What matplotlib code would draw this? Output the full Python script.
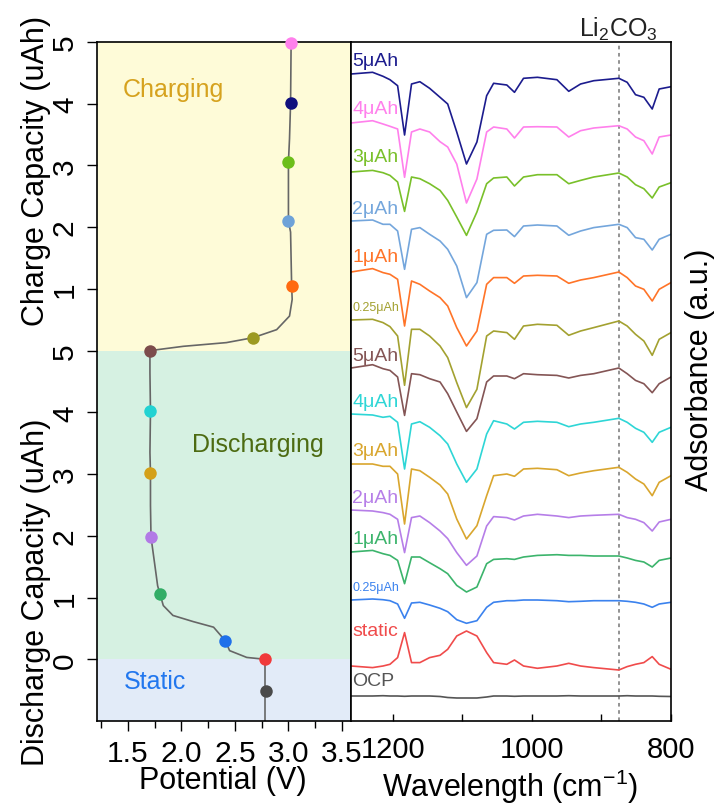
import matplotlib
matplotlib.use('Agg')
import matplotlib.pyplot as plt
from matplotlib.ticker import MultipleLocator

plt.rcParams['font.family'] = ['Liberation Sans', 'DejaVu Sans']
plt.rcParams['mathtext.fontset'] = 'custom'
plt.rcParams['mathtext.rm'] = 'Liberation Sans'
plt.rcParams['mathtext.it'] = 'Liberation Sans:italic'
plt.rcParams['mathtext.bf'] = 'Liberation Sans:bold'

# ---- potential profile (left) ----
# static: open circuit, potential stays at 2.78 V
static_v = 2.78
# discharge capacity (uAh) vs potential, from the start of discharge to 5 uAh
discharge_v = [2.78, 2.61, 2.45, 2.41, 2.30, 2.11, 1.92, 1.83, 1.80, 1.777,
               1.752, 1.715, 1.71, 1.71, 1.705, 1.71, 1.705, 1.705]
discharge_cap = [0.0, 0.03, 0.14, 0.30, 0.52, 0.61, 0.71, 0.87, 1.05, 1.19,
                 1.51, 1.98, 2.49, 3.01, 3.35, 4.02, 4.64, 5.0]
# charge capacity (uAh) vs potential
charge_v = [1.705, 2.017, 2.42, 2.67, 2.89, 3.01, 3.035, 3.03, 3.02, 3.0,
            3.0, 3.0, 3.01, 3.02, 3.025]
charge_cap = [0.0, 0.07, 0.13, 0.21, 0.34, 0.56, 0.83, 1.05, 1.92, 2.1,
              2.73, 3.06, 3.43, 4.01, 4.98]

# sampling points where the spectra were taken
pt_v = [3.025, 3.02, 3.0, 3.0, 3.03, 2.67,
        1.705, 1.71, 1.71, 1.715, 1.80, 2.41,
        2.78, 2.79]
pt_cap = [4.98, 4.01, 3.06, 2.1, 1.05, 0.21,
          5.0, 4.02, 3.01, 1.98, 1.05, 0.30,
          0.0, 0.52]
pt_step = ['charge'] * 6 + ['discharge'] * 6 + ['static', 'ocp']
pt_colors = ['#ff80ec', '#10107e', '#6cbe1a', '#6ea2d8', '#ff6a10', '#9c9a22',
             '#7c4c4c', '#22d2d2', '#d4a018', '#b27ae6', '#32ad66', '#1f70ea',
             '#f03a3a', '#4a4a4a']

# ---- IR spectra (right) ----
wn = [1260, 1229, 1214, 1204, 1193, 1183, 1173, 1161, 1147, 1132, 1121,
      1108, 1094, 1079, 1065, 1055, 1036, 1025, 1012, 992, 964, 947, 930,
      911, 875, 863, 851, 839, 827, 817, 800]

chg_5 = [0, 1.7, -2.3, -5.7, -11.7, -61, -10, -7.7, -14.3, -23.3, -30, -58, -90, -68, -21.7,
         -9.3, -11, -18.3, -4.3, -3.3, -5.7, -17.3, -10, -6.7, -4.3, -8.3, -20.7, -23.3, -35, -15, -12.7]
chg_4 = [0, 2.3, -1, -3.3, -6, -54.3, -9, -6, -9, -18.7, -24, -41, -80, -56, -9,
         -4, -6, -15, -4, -3.7, -4, -14, -7.7, -5, -2.7, -6, -14, -17.7, -31, -14, -12]
chg_3 = [0, 1.6, -0.7, -3.4, -10, -39.4, -5, -6.7, -11.7, -18.4, -28.4, -45, -63.4, -40, -11.7,
         -6, -5, -14, -5, -2.7, -2.7, -11.7, -8.4, -5, -1, -5, -12.7, -16.7, -26, -15, -10.7]
chg_2 = [0, 1, -3.3, -3.3, -10, -48.3, -8.3, -6.6, -13.3, -20, -28.3, -45, -76.6, -61.6, -13.3,
         -9.3, -9, -15.6, -5, -4, -5, -14.3, -10, -6.6, -3.3, -6.6, -16.6, -18.3, -29, -18.3, -13.3]
chg_1 = [0, 3.4, -0.6, -2.3, -7.3, -54, -9, -12.3, -19, -25.6, -34, -55.6, -74, -59, -12.3,
         -5.6, -5.6, -11.3, -4, -3.3, -4, -11.3, -8, -5.6, 0, -5.6, -14, -17.3, -29, -17.3, -10.6]
chg_025 = [0, 0.7, -2.6, -6.6, -16, -65.3, -9.3, -9.3, -16, -26, -37.6, -62.6, -87.6, -69.3, -16,
           -11, -12.6, -19.3, -6, -4.3, -5.3, -15.3, -11, -7.6, -1, -6, -14.3, -21, -35.3, -19.3, -12.6]
dis_5 = [0, 3.3, -0.7, -2.4, -9, -47.4, -5.7, -6.7, -10.7, -14, -25.7, -44, -63.4, -50.7, -14,
         -8, -8, -10.7, -5.7, -6.7, -7.4, -10, -7.4, -5.7, 0, -5.7, -12.4, -15.7, -24.7, -15.7, -9]
dis_4 = [0, -1, -3.3, -2.3, -8.3, -55, -10, -7.7, -13.3, -21.7, -30, -50, -68.3, -55, -20,
         -6.7, -10, -15, -8.3, -7.3, -8.3, -12.7, -10, -8.3, -4.3, -8.3, -14.3, -18.3, -28.3, -18.3, -13.3]
dis_3 = [0, 0, -2.3, -2.3, -10, -60, -5, -6.7, -13.3, -21, -30, -55, -75, -61.7, -31.7,
         -11.7, -10, -12.3, -5, -4.3, -5.7, -11.7, -9, -6.7, -3.3, -8.3, -15, -20, -31.7, -18.3, -11.7]
dis_2 = [0, -1, -2.6, -4.3, -9.3, -42.6, -7.6, -6, -12.6, -21, -28.6, -42.6, -55.3, -46, -16,
         -6.6, -7.6, -10, -6, -4.3, -6, -7.6, -6, -5.3, -4.3, -7.6, -9.3, -12.6, -21, -12, -9.3]
dis_1 = [0, 1.6, -1.7, -3.4, -8.4, -31.7, -5, -5, -10.7, -16.7, -21.7, -33.4, -40, -35, -11.7,
         -7.4, -6.7, -7.4, -5, -3.4, -2.7, -3.4, -3.4, -4, -4, -6, -8.4, -10, -15, -8.4, -6]
dis_025 = [0, 1, 0.3, -0.7, -4, -18.3, -3, -2.3, -5, -8.3, -11.7, -19.7, -23.3, -20.7, -7.3,
           -2.3, -0.7, -0.7, 0, 0, -0.7, -1.7, -1.3, -0.7, -0.7, -1.3, -2.3, -4, -7.3, -4, -2.3]
static = [0, -1.6, 0, 1.7, 8.4, 33.4, 3.4, 3.4, 8.4, 10.7, 16.7, 30, 35, 30, 13.4,
          3.4, 1.7, 6, 0, -2.3, 0, 2.7, 0, -1.6, -4, -0.6, 1.7, 3.4, 9.4, 1.7, -3.3]
ocp = [0, 0, 0.3, 0, 0, -0.3, 0, 0, 0, -0.5, -1.5, -2, -2, -2, -1,
       0, 0, -0.3, 0, 0, 0, 0.3, 0, 0, 0, 0.3, 0, 0, 0, -0.3, -0.5]

spectra = [chg_5, chg_4, chg_3, chg_2, chg_1, chg_025,
           dis_5, dis_4, dis_3, dis_2, dis_1, dis_025, static, ocp]
names = ['5μAh', '4μAh', '3μAh', '2μAh', '1μAh', '0.25μAh',
         '5μAh', '4μAh', '3μAh', '2μAh', '1μAh', '0.25μAh', 'static', 'OCP']
colors = ['#1c1c8e', '#ff80ec', '#79c02a', '#74a6dc', '#ff7428', '#a3a130',
          '#845555', '#2ed6d6', '#d9a62e', '#b67ee8', '#3cb46c', '#3b82ee',
          '#f04b4b', '#555555']
# vertical stacking of the traces
offsets = [647, 598, 549, 500, 449, 401, 353, 307, 257, 211, 169, 121, 55, 25]
label_gap = [14, 14, 16, 12, 16, 13, 12, 12, 13, 12, 14, 13, 35, 15]

fig = plt.figure(figsize=(7.2, 8.12), dpi=100)
ax1 = fig.add_axes([97 / 720, 90 / 812, 254 / 720, 679 / 812])
ax2 = fig.add_axes([351 / 720, 90 / 812, 320 / 720, 679 / 812])

# left: potential profile on stacked capacity axis
ax1.axhspan(5, 10, color='#fefbd8', lw=0, zorder=0)
ax1.axhspan(0, 5, color='#d6f1e2', lw=0, zorder=0)
ax1.axhspan(-1, 0, color='#e2ebf8', lw=0, zorder=0)

ax1.plot([static_v, static_v], [-1, 0], color='#666666', lw=1.2, zorder=2)
ax1.plot(discharge_v, discharge_cap, color='#666666', lw=1.2, zorder=2)
ax1.plot(charge_v, [5 + c for c in charge_cap], color='#666666', lw=1.2, zorder=2)

for v, c, step, col in zip(pt_v, pt_cap, pt_step, pt_colors):
    if step == 'charge':
        y = 5 + c
    elif step == 'ocp':
        y = -c
    else:
        y = c
    ax1.plot(v, y, 'o', ms=9, color=col, mec='none', zorder=3, clip_on=False)

ax1.text(1.45, 9.24, 'Charging', color='#d6a21e', fontsize=18, va='center')
ax1.text(2.10, 3.48, 'Discharging', color='#4d6b12', fontsize=18, va='center')
ax1.text(1.46, -0.35, 'Static', color='#2277ee', fontsize=18, va='center')

ax1.set_xlim(1.21, 3.585)
ax1.set_ylim(-1, 10)
ax1.set_xticks([1.5, 2.0, 2.5, 3.0, 3.5])
ax1.set_xticklabels(['1.5', '2.0', '2.5', '3.0', '3.5'])
ax1.xaxis.set_minor_locator(MultipleLocator(0.25))
ax1.set_yticks(range(11))
ax1.set_yticklabels(['0', '1', '2', '3', '4', '5', '1', '2', '3', '4', '5'],
                    rotation=90, va='center')
ax1.tick_params(axis='both', which='major', direction='out', length=7, width=1,
                labelsize=21.5, pad=6)
ax1.tick_params(axis='x', which='minor', direction='out', length=5, width=1)
for s in ax1.spines.values():
    s.set_linewidth(1.2)

# right: stacked IR spectra
for y, off, name, gap, col in zip(spectra, offsets, names, label_gap, colors):
    ax2.plot(wn, [off + v for v in y], color=col, lw=1.2, solid_joinstyle='round')
    fs = 9 if name.startswith('0.25') else 14
    ax2.text(1258, off + gap, name, color=col, fontsize=fs, ha='left', va='center')

ax2.axvline(875, color='#8a8a8a', lw=1.3, ls=(0, (2, 2)), zorder=0)
ax2.text(875, 685, 'Li$_2$CO$_3$', fontsize=18, ha='center', va='baseline',
         color='#222222')

ax2.set_xlim(1260, 800)
ax2.set_ylim(0, 679)
ax2.set_yticks([])
ax2.set_xticks([1200, 1000, 800])
ax2.set_xticks([1100, 900], minor=True)
ax2.tick_params(axis='x', which='both', direction='in', length=5, width=1,
                labelsize=21, pad=10)
for s in ax2.spines.values():
    s.set_linewidth(1.2)

fig.text(0.05, 0.79, 'Charge Capacity (uAh)', rotation=90, fontsize=22,
         ha='center', va='center')
fig.text(0.05, 0.27, 'Discharge Capacity (uAh)', rotation=90, fontsize=22,
         ha='center', va='center')
fig.text(0.31, 0.038, 'Potential (V)', fontsize=22, ha='center', va='center')
fig.text(0.708, 0.031, 'Wavelength (cm$^{-1}$)', fontsize=22, ha='center', va='center')
fig.text(0.972, 0.545, 'Adsorbance (a.u.)', rotation=90, fontsize=22,
         ha='center', va='center')

fig.savefig('out.png', dpi=100)
